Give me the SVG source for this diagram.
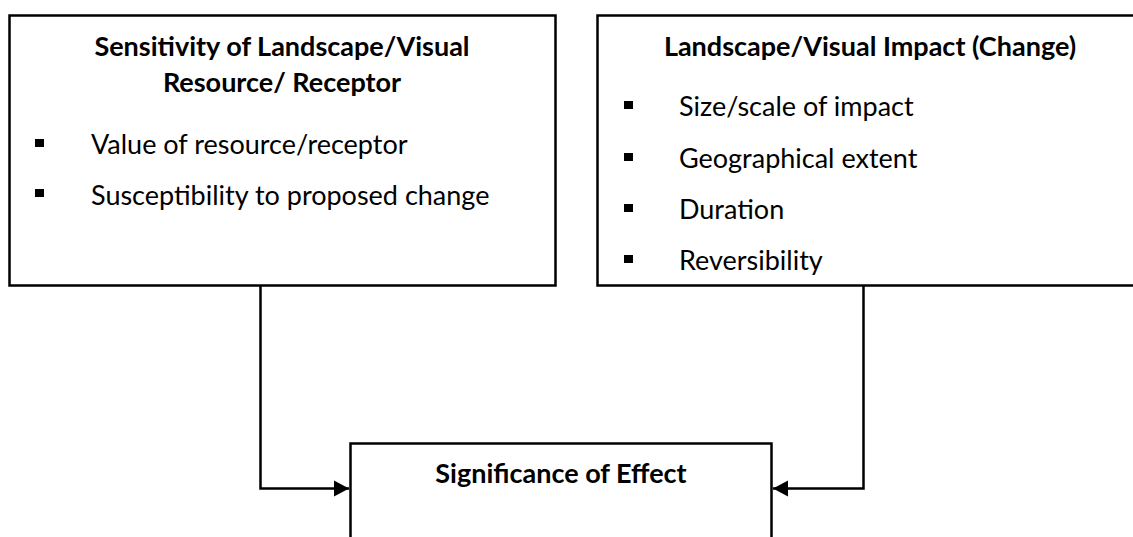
<svg xmlns="http://www.w3.org/2000/svg" width="1133" height="537" viewBox="0 0 1133 537">
<style>
.box{fill:#fff;stroke:#000;stroke-width:2.5}
.title{font-family:Lato,"Liberation Sans",sans-serif;font-weight:bold;font-size:27px;fill:#000;text-anchor:middle}
.item{font-family:Lato,"Liberation Sans",sans-serif;font-size:27px;fill:#000}
.conn{fill:none;stroke:#000;stroke-width:2.5}
.bul{fill:#000}
</style>
<defs>
<marker id="arr" markerUnits="userSpaceOnUse" markerWidth="16" markerHeight="18" refX="15" refY="9" orient="auto">
<path d="M0,1 L15,9 L0,17 Z" fill="#000"/>
</marker>
</defs>
<g id="connectors">
<path class="conn" d="M260.5,285 V488.5 H349" marker-end="url(#arr)"/>
<path class="conn" d="M863.5,285 V488.5 H773" marker-end="url(#arr)"/>
</g>
<g id="sensitivity">
<rect class="box" x="9.5" y="15.5" width="546" height="270"/>
<text class="title" x="282" y="56">Sensitivity of Landscape/Visual</text>
<text class="title" x="282" y="92">Resource/ Receptor</text>
<rect class="bul" x="35" y="139" width="9" height="8"/>
<text class="item" x="91" y="154">Value of resource/receptor</text>
<rect class="bul" x="35" y="189" width="9" height="8"/>
<text class="item" x="91" y="205">Susceptibility to proposed change</text>
</g>
<g id="impact">
<rect class="box" x="597.5" y="15.5" width="560" height="270"/>
<text class="title" x="870" y="56">Landscape/Visual Impact (Change)</text>
<rect class="bul" x="624" y="101" width="9" height="8"/>
<text class="item" x="679" y="116">Size/scale of impact</text>
<rect class="bul" x="624" y="153" width="9" height="8"/>
<text class="item" x="679" y="168">Geographical extent</text>
<rect class="bul" x="624" y="204" width="9" height="8"/>
<text class="item" x="679" y="219">Duration</text>
<rect class="bul" x="624" y="255" width="9" height="8"/>
<text class="item" x="679" y="270">Reversibility</text>
</g>
<g id="significance">
<rect class="box" x="350.5" y="443.5" width="421" height="120"/>
<text class="title" x="561" y="483">Significance of Effect</text>
</g>
</svg>
